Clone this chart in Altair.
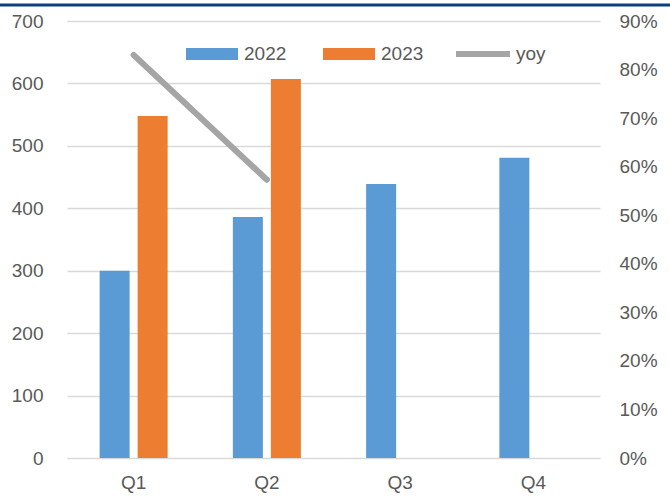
import altair as alt
import pandas as pd

quarters = ["Q1", "Q2", "Q3", "Q4"]
sales_2022 = [300, 386, 439, 481]
sales_2023 = [548, 607, None, None]
yoy_quarters = ["Q1", "Q2"]
yoy_values = [0.83, 0.573]

left_ticks = [0, 100, 200, 300, 400, 500, 600, 700]
right_ticks = [0, 0.1, 0.2, 0.3, 0.4, 0.5, 0.6, 0.7, 0.8, 0.9]

rows = []
for q, v in zip(quarters, sales_2022):
    rows.append({"quarter": q, "year": "2022", "value": v})
for q, v in zip(quarters, sales_2023):
    if v is not None:
        rows.append({"quarter": q, "year": "2023", "value": v})
bars_df = pd.DataFrame(rows)
line_df = pd.DataFrame({"quarter": yoy_quarters, "series": ["yoy"] * 2, "yoy": yoy_values})

FONT = "Liberation Sans"
TXT = "#595959"

x_scale = alt.Scale(domain=quarters, paddingInner=0, paddingOuter=0)
x_axis = alt.Axis(title=None, labelAngle=0, ticks=False, domain=False,
                  labelFontSize=19, labelColor=TXT, labelFont=FONT,
                  labelPadding=15, grid=False)

bars = alt.Chart(bars_df).mark_bar().encode(
    x=alt.X("quarter:N", scale=x_scale, sort=quarters, axis=x_axis),
    xOffset=alt.XOffset("year:N", scale=alt.Scale(domain=["2022", "2023"],
                                                  paddingInner=0.2105, paddingOuter=0.858)),
    y=alt.Y("value:Q", scale=alt.Scale(domain=[0, 700], nice=False),
            axis=alt.Axis(title=None, values=left_ticks, ticks=False, domain=False,
                          labelFontSize=19, labelColor=TXT, labelFont=FONT,
                          labelPadding=24, gridColor="#d9d9d9", gridWidth=1.5)),
    fill=alt.Fill("year:N",
                  scale=alt.Scale(domain=["2022", "2023"], range=["#5b9bd5", "#ed7d31"]),
                  legend=alt.Legend(title=None, orient="none", legendX=119, legendY=7,
                                    direction="horizontal", columns=2,
                                    symbolType="M-1,-0.23H1V0.23H-1Z", symbolSize=2704,
                                    symbolStrokeWidth=0, labelOffset=6, columnPadding=36,
                                    labelFontSize=19, labelColor=TXT, labelFont=FONT,
                                    padding=0)),
)

line = alt.Chart(line_df).mark_line(strokeWidth=6, strokeCap="round").encode(
    x=alt.X("quarter:N", scale=x_scale, sort=quarters, axis=x_axis),
    y=alt.Y("yoy:Q", scale=alt.Scale(domain=[0, 0.9], nice=False),
            axis=alt.Axis(title=None, orient="right", values=right_ticks, format=".0%",
                          ticks=False, domain=False, grid=False,
                          labelFontSize=19, labelColor=TXT, labelFont=FONT,
                          labelPadding=19)),
    stroke=alt.Stroke("series:N", scale=alt.Scale(domain=["yoy"], range=["#a5a5a5"]),
                      legend=alt.Legend(title=None, orient="none", legendX=386, legendY=3,
                                        symbolType="stroke", symbolSize=2916,
                                        symbolStrokeWidth=6, labelOffset=3,
                                        labelFontSize=19, labelColor=TXT, labelFont=FONT,
                                        padding=0)),
)

top_rule = alt.Chart(pd.DataFrame({"k": [0]})).mark_rule(color="#0d3f7e", strokeWidth=3).encode(
    x=alt.value(-67), x2=alt.value(603), y=alt.value(-16)
)

chart = alt.layer(bars, line, top_rule).resolve_scale(
    y="independent"
).properties(
    width=533, height=437,
    background="white",
    autosize=alt.AutoSizeParams(type="none"),
    padding={"left": 67, "top": 21, "right": 70, "bottom": 38},
).configure_view(strokeWidth=0, stroke="transparent")

chart.save("out.html", embed_options={"renderer": "svg", "actions": False})
